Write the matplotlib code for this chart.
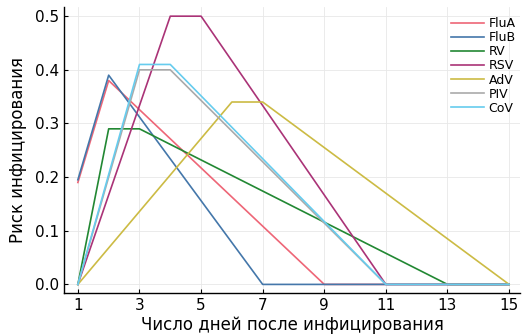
import matplotlib
matplotlib.use("Agg")
import matplotlib.pyplot as plt

# Breakpoints of each piecewise-linear series (day, risk)
names = ["FluA", "FluB", "RV", "RSV", "AdV", "PIV", "CoV"]
fluA_x = [1, 2, 9, 15];        fluA_y = [0.19, 0.38, 0.0, 0.0]
fluB_x = [1, 2, 7, 15];        fluB_y = [0.195, 0.39, 0.0, 0.0]
rv_x   = [1, 2, 3, 13, 15];    rv_y   = [0.0, 0.29, 0.29, 0.0, 0.0]
rsv_x  = [1, 4, 5, 11, 15];    rsv_y  = [0.0, 0.5, 0.5, 0.0, 0.0]
adv_x  = [1, 6, 7, 15];        adv_y  = [0.0, 0.34, 0.34, 0.0]
piv_x  = [1, 3, 4, 11, 15];    piv_y  = [0.0, 0.4, 0.4, 0.0, 0.0]
cov_x  = [1, 3, 4, 11, 15];    cov_y  = [0.0, 0.41, 0.41, 0.0, 0.0]
colors = ["#EE6677", "#4477AA", "#228833", "#AA3377", "#CCBB44", "#AAAAAA", "#66CCEE"]

xticks = [1, 3, 5, 7, 9, 11, 13, 15]
yticks = [0.0, 0.1, 0.2, 0.3, 0.4, 0.5]

series = [(fluA_x, fluA_y), (fluB_x, fluB_y), (rv_x, rv_y), (rsv_x, rsv_y),
          (adv_x, adv_y), (piv_x, piv_y), (cov_x, cov_y)]

fig = plt.figure(figsize=(5.23, 3.36), dpi=100)
ax = fig.add_axes([0.1224, 0.128, 0.8716, 0.851])

for (xs, ys), name, c in zip(series, names, colors):
    ax.plot(xs, ys, color=c, lw=1.2, label=name)

ax.set_xlim(0.55, 15.35)
ax.set_ylim(-0.016, 0.517)
ax.set_xticks(xticks)
ax.set_xticklabels([str(t) for t in xticks])
ax.set_yticks(yticks)
ax.set_yticklabels([f"{t:.1f}" for t in yticks])
ax.grid(True, color="#e8e8e8", lw=0.6)
ax.set_axisbelow(True)
for s in ["top", "right"]:
    ax.spines[s].set_visible(False)
for s in ["left", "bottom"]:
    ax.spines[s].set_linewidth(1.0)
ax.tick_params(direction="in", length=3, labelsize=11, width=0.8)
ax.set_xlabel("Число дней после инфицирования", fontsize=12, labelpad=2)
ax.set_ylabel("Риск инфицирования", fontsize=12, labelpad=6)
ax.legend(loc="upper left", frameon=False, fontsize=9, handlelength=2.7,
          labelspacing=0.09, handletextpad=0.35, borderaxespad=0.0, borderpad=0.0,
          bbox_to_anchor=(0.848, 0.965))

fig.savefig("out.png", dpi=100)
